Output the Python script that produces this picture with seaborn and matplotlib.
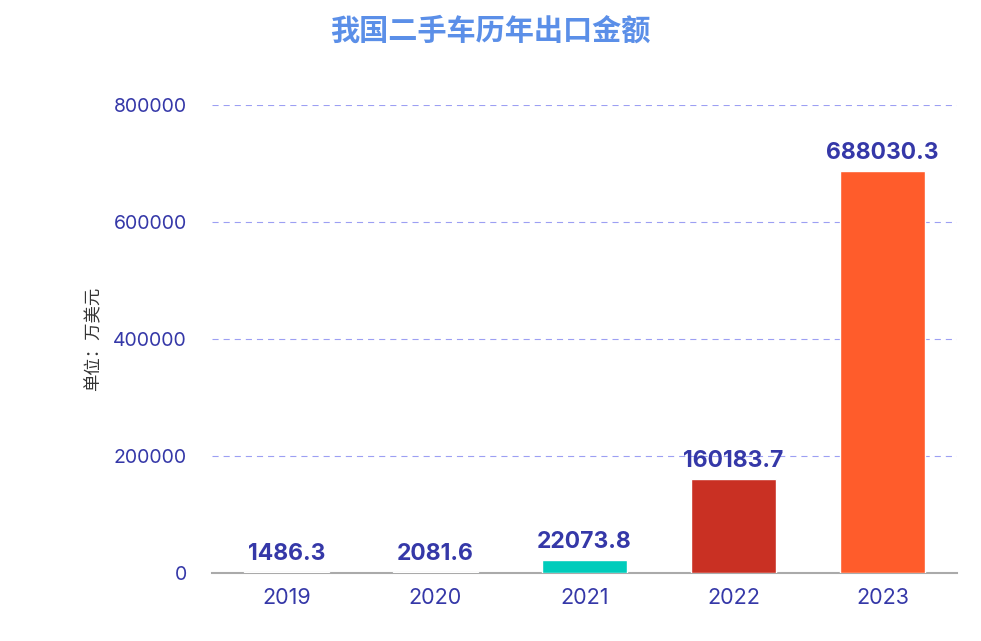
import matplotlib
matplotlib.use("Agg")
import matplotlib.pyplot as plt
import seaborn as sns
import pandas as pd

years = ["2019", "2020", "2021", "2022", "2023"]
values = [1486.3, 2081.6, 22073.8, 160183.7, 688030.3]
colors = ["#4F86EC", "#1EB8F0", "#00CCBB", "#C93023", "#FF5C2B"]
yticks = [0, 200000, 400000, 600000, 800000]

sns.set_theme(style="white")
plt.rcParams['font.family'] = ['Inter', 'Noto Sans CJK SC', 'DejaVu Sans']

df = pd.DataFrame({"year": years, "value": values})

fig = plt.figure(figsize=(9.81, 6.41), dpi=100)
ax = fig.add_axes([0.216, 0.106, 0.7595, 0.730])

sns.barplot(data=df, x="year", y="value", hue="year", palette=colors,
            legend=False, width=0.57, ax=ax, saturation=1)

ax.set_ylim(0, 800000)
ax.set_yticks(yticks)
ax.set_yticklabels([str(t) for t in yticks])
ax.yaxis.grid(True, linestyle=(0, (5.5, 4.5)), color="#7b7ff0", linewidth=0.8)
for p in ax.patches:
    p.set_zorder(3)
for gl in ax.yaxis.get_gridlines():
    gl.set_zorder(4)
    gl.set_alpha(0.75)

for s in ["top", "right", "left"]:
    ax.spines[s].set_visible(False)
ax.spines["bottom"].set_color("#aaaaaa")
ax.spines["bottom"].set_linewidth(1.5)
ax.spines["bottom"].set_zorder(2)

ax.tick_params(axis="both", length=0, labelcolor="#3538a8")
ax.tick_params(axis="y", pad=18, labelsize=14)
ax.tick_params(axis="x", pad=11, labelsize=15.5)
ax.set_xlabel("")
ax.set_ylabel("单位：万美元", fontsize=12.5, color="#333333", labelpad=8,
              family=['Noto Sans CJK SC', 'DejaVu Sans'])

for i, v in enumerate(values):
    ax.annotate(f"{v}", (i, v), xytext=(0, 5), textcoords="offset points",
                ha="center", va="bottom", fontsize=16.5,
                fontweight="bold", color="#3538a8", zorder=6)

fig.text(0.5, 0.953, "我国二手车历年出口金额", ha="center", va="center",
         fontsize=21, fontweight="black", color="#5B8FE8",
         family=['Noto Sans CJK SC', 'DejaVu Sans'])

fig.savefig("out.png", dpi=100, facecolor="white")
